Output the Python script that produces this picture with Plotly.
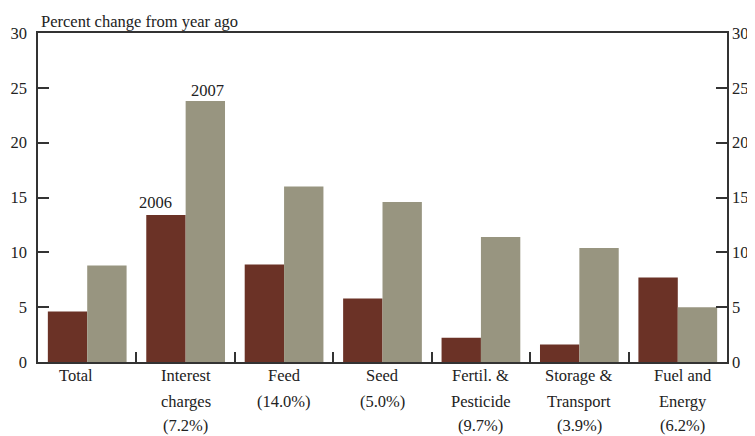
import plotly.graph_objects as go

# ---- data ----
categories = ["Total", "Interest charges (7.2%)", "Feed (14.0%)", "Seed (5.0%)",
              "Fertil. & Pesticide (9.7%)", "Storage & Transport (3.9%)", "Fuel and Energy (6.2%)"]
label_lines = [["Total"], ["Interest", "charges", "(7.2%)"], ["Feed", "(14.0%)"], ["Seed", "(5.0%)"],
               ["Fertil. &", "Pesticide", "(9.7%)"], ["Storage &", "Transport", "(3.9%)"],
               ["Fuel and", "Energy", "(6.2%)"]]
values_2006 = [4.6, 13.4, 8.9, 5.8, 2.2, 1.6, 7.7]
values_2007 = [8.8, 23.8, 16.0, 14.6, 11.4, 10.4, 5.0]
y_ticks = [0, 5, 10, 15, 20, 25, 30]

# ---- style ----
RED = "#6B3226"
GRAY = "#989580"
AXIS = "#333333"
FONT = "Liberation Serif"
label_xshift = [-11, 0, 0, 0, 0, 0, 5]
line_yshift = [-13.5, -39, -63.5]

fig = go.Figure()
fig.add_trace(go.Bar(x=categories, y=values_2006, marker_color=RED, marker_line_width=0, name="2006"))
fig.add_trace(go.Bar(x=categories, y=values_2007, marker_color=GRAY, marker_line_width=0, name="2007"))
fig.add_trace(go.Scatter(x=[categories[0]], y=[0], yaxis="y2", mode="markers",
                         marker=dict(opacity=0), showlegend=False, hoverinfo="skip"))

annotations = []
for cat, lines, xs in zip(categories, label_lines, label_xshift):
    for ln, ys in zip(lines, line_yshift):
        annotations.append(dict(x=cat, y=0, xref="x", yref="paper", text=ln, showarrow=False,
                                xanchor="center", yanchor="middle", xshift=xs, yshift=ys,
                                borderpad=0,
                                font=dict(family=FONT, size=16.5, color="#222")))
annotations.append(dict(x=categories[1], y=values_2006[1], xref="x", yref="y", text="2006",
                        showarrow=False, xanchor="center", yanchor="middle", xshift=-30.5, yshift=12.5,
                        font=dict(family=FONT, size=16.5, color="#222")))
annotations.append(dict(x=categories[1], y=values_2007[1], xref="x", yref="y", text="2007",
                        showarrow=False, xanchor="center", yanchor="middle", xshift=22, yshift=10.5,
                        font=dict(family=FONT, size=16.5, color="#222")))
annotations.append(dict(x=0, y=1, xref="paper", yref="paper", text="Percent change from year ago",
                        showarrow=False, xanchor="left", yanchor="middle", xshift=1, yshift=12,
                        font=dict(family=FONT, size=16.5, color="#222")))

# page body has an 8px default margin, so size the figure to fit the window
fig.update_layout(
    width=747, height=428,
    margin=dict(l=30, r=28, t=25, b=74, autoexpand=False),
    paper_bgcolor="white", plot_bgcolor="white",
    barmode="group", bargap=0.2, bargroupgap=0,
    showlegend=False,
    font=dict(family=FONT, size=16.5, color="#222"),
    annotations=annotations,
    xaxis=dict(showline=True, linecolor=AXIS, linewidth=1.5, mirror=True,
               ticks="inside", tickson="boundaries", ticklen=10, tickcolor=AXIS, tickwidth=1.5,
               showticklabels=False, showgrid=False, zeroline=False),
    yaxis=dict(range=[0, 30], tickvals=y_ticks, showline=True, linecolor=AXIS, linewidth=1.5,
               ticks="inside", ticklen=11, tickcolor=AXIS, tickwidth=1.5,
               showgrid=False, zeroline=False, ticklabelstandoff=6),
    yaxis2=dict(range=[0, 30], tickvals=y_ticks, overlaying="y", side="right",
                showline=True, linecolor=AXIS, linewidth=1.5,
                ticks="inside", ticklen=11, tickcolor=AXIS, tickwidth=1.5,
                showgrid=False, zeroline=False),
)

fig.write_html("out.html")
